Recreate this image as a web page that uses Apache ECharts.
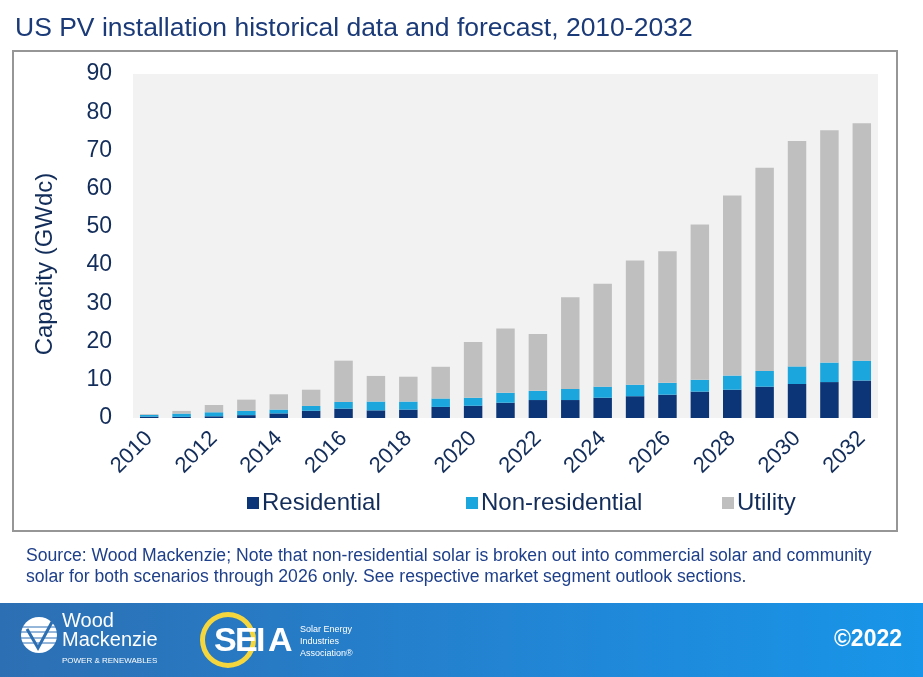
<!DOCTYPE html>
<html>
<head>
<meta charset="utf-8">
<script src="https://cdn.jsdelivr.net/npm/echarts@6/dist/echarts.min.js"></script>
<style>
html,body{margin:0;padding:0;background:#fff;}
#chart{width:923px;height:677px;}
</style>
</head>
<body>
<div id="chart"></div>
<script>
var categories = ['2010','2011','2012','2013','2014','2015','2016','2017','2018','2019','2020','2021','2022','2023','2024','2025','2026','2027','2028','2029','2030','2031','2032'];
var residential = [0.35,0.3,0.45,0.75,1.2,1.9,2.45,2.0,2.2,2.9,3.2,4.0,4.7,4.7,5.3,5.7,6.1,6.9,7.4,8.2,8.9,9.4,9.8];
var nonResidential = [0.45,0.85,1.05,1.1,1.0,1.25,1.75,2.3,2.1,2.2,2.1,2.6,2.4,2.9,2.9,3.0,3.1,3.1,3.7,4.1,4.6,5.1,5.2];
var utility = [0.2,0.7,1.9,2.95,4.0,4.25,10.8,6.7,6.5,8.3,14.6,16.8,14.9,24.0,26.9,32.5,34.4,40.6,47.1,53.2,59.0,60.8,62.1];
var seriesNames = ['Residential','Non-residential','Utility'];
var titleText = 'US PV installation historical data and forecast, 2010-2032';
var yAxisName = 'Capacity (GWdc)';
var footnote1 = 'Source: Wood Mackenzie; Note that non-residential solar is broken out into commercial solar and community';
var footnote2 = 'solar for both scenarios through 2026 only. See respective market segment outlook sections.';

var FONT = '"Liberation Sans", Arial, sans-serif';
var NAVY = '#132d5a';

var chart = echarts.init(document.getElementById('chart'), null, {renderer:'canvas'});
function legendAt(name, left){
  return {
    left:left, top:486,
    itemWidth:12, itemHeight:12, itemGap:0,
    icon:'rect',
    textStyle:{fontSize:24,color:NAVY,fontFamily:FONT,padding:[0,0,0,-2]},
    data:[name]
  };
}
var option = {
  animation:false,
  backgroundColor:'#ffffff',
  textStyle:{fontFamily:FONT},
  grid:{left:133,right:45,top:74,bottom:259,show:true,backgroundColor:'#f2f2f2',borderWidth:0},
  legend:[legendAt(seriesNames[0],242),legendAt(seriesNames[1],461),legendAt(seriesNames[2],717)],
  xAxis:{
    type:'category', data:categories,
    axisLine:{show:false}, axisTick:{show:false},
    axisLabel:{interval:1,rotate:45,fontSize:22,color:NAVY,margin:17,fontFamily:FONT}
  },
  yAxis:{
    type:'value', min:0, max:90, interval:10,
    splitLine:{show:false}, axisLine:{show:false}, axisTick:{show:false},
    axisLabel:{fontSize:23,color:NAVY,margin:21,fontFamily:FONT}
  },
  series:[
    {name:seriesNames[0],type:'bar',stack:'t',data:residential,barWidth:'57%',itemStyle:{color:'#0b3577'}},
    {name:seriesNames[1],type:'bar',stack:'t',data:nonResidential,itemStyle:{color:'#1ba6dd'}},
    {name:seriesNames[2],type:'bar',stack:'t',data:utility,itemStyle:{color:'#bfbfbf'}}
  ],
  graphic:[
    {type:'text',left:15,top:15,style:{text:titleText,font:'26.5px '+FONT,fill:'#1b3a78'}},
    {type:'rect',shape:{x:13,y:51,width:884,height:480},style:{fill:'none',stroke:'#969696',lineWidth:2},silent:true},
    {type:'text',x:45,y:264,rotation:Math.PI/2,style:{text:yAxisName,font:'24px '+FONT,fill:NAVY,align:'center',verticalAlign:'middle'}},
    {type:'text',left:26,top:547,style:{text:footnote1,font:'17.6px '+FONT,fill:'#1e3f8a'}},
    {type:'text',left:26,top:568,style:{text:footnote2,font:'17.6px '+FONT,fill:'#1e3f8a'}},
    {type:'rect',shape:{x:0,y:603,width:923,height:74},style:{fill:new echarts.graphic.LinearGradient(0,0,1,0,[{offset:0,color:'#2d6fb3'},{offset:0.6,color:'#2186d6'},{offset:1,color:'#1895e8'}])},silent:true},
    // Wood Mackenzie emblem
    {type:'circle',shape:{cx:39,cy:635,r:18},style:{fill:'#ffffff'},silent:true},
    {type:'line',shape:{x1:21,y1:627,x2:57,y2:627},style:{stroke:'#2d6fb3',lineWidth:1}},
    {type:'line',shape:{x1:21,y1:632,x2:57,y2:632},style:{stroke:'#2d6fb3',lineWidth:1}},
    {type:'line',shape:{x1:21,y1:638,x2:57,y2:638},style:{stroke:'#2d6fb3',lineWidth:1}},
    {type:'line',shape:{x1:21,y1:643,x2:57,y2:643},style:{stroke:'#2d6fb3',lineWidth:1}},
    {type:'polyline',shape:{points:[[27,629],[38,648],[52,622]]},style:{stroke:'#2d6fb3',lineWidth:3,fill:'none'}},
    {type:'text',left:62,top:611,style:{text:'Wood',font:'20px '+FONT,fill:'#ffffff'}},
    {type:'text',left:62,top:630,style:{text:'Mackenzie',font:'20px '+FONT,fill:'#ffffff'}},
    {type:'text',left:62,top:657,style:{text:'POWER & RENEWABLES',font:'8px '+FONT,fill:'#ffffff'}},
    // SEIA logo
    {type:'ring',shape:{cx:228,cy:640,r:28,r0:23},style:{fill:'#f5d63d'},silent:true},
    {type:'text',left:214,top:625,style:{text:'S',font:'bold 34px '+FONT,fill:'#ffffff'}},
    {type:'text',left:235,top:625,style:{text:'E',font:'bold 34px '+FONT,fill:'#ffffff'}},
    {type:'text',left:256,top:625,style:{text:'I',font:'bold 34px '+FONT,fill:'#ffffff'}},
    {type:'text',left:268,top:625,style:{text:'A',font:'bold 34px '+FONT,fill:'#ffffff'}},
    {type:'text',left:300,top:625,style:{text:'Solar Energy',font:'9px '+FONT,fill:'#ffffff'}},
    {type:'text',left:300,top:637,style:{text:'Industries',font:'9px '+FONT,fill:'#ffffff'}},
    {type:'text',left:300,top:649,style:{text:'Association®',font:'9px '+FONT,fill:'#ffffff'}},
    {type:'text',right:21,top:628,style:{text:'©2022',font:'bold 23px '+FONT,fill:'#ffffff'}}
  ]
};
chart.setOption(option);
</script>
</body>
</html>
